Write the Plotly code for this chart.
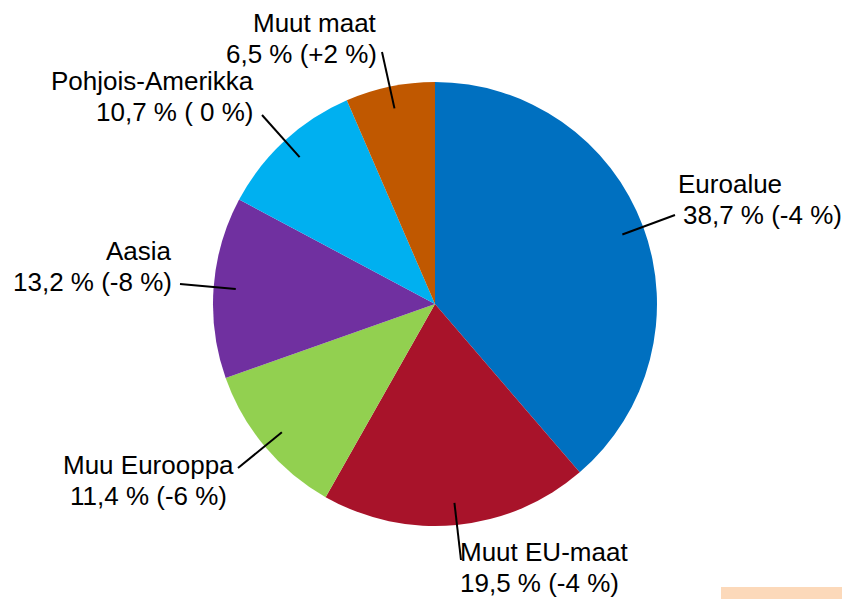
import math
import plotly.graph_objects as go

# the page adds an 8px body margin, so the figure is drawn 8px smaller
OFF = 8
W, H = 850 - OFF, 599 - OFF

# data
regions = ["Euroalue", "Muut EU-maat", "Muu Eurooppa", "Aasia", "Pohjois-Amerikka", "Muut maat"]
shares = [38.7, 19.5, 11.4, 13.2, 10.7, 6.5]
changes = ["-4 %", "-4 %", "-6 %", "-8 %", " 0 %", "+2 %"]
colors = ["#0070C0", "#A8132A", "#92D050", "#7030A0", "#00B0F0", "#C05800"]

# pie geometry in screen pixels
cx, cy, R = 435, 304, 222


def px(x):
    return (x - OFF) / W


def py(y):
    return 1 - (y - OFF) / H


fig = go.Figure(go.Pie(
    labels=regions,
    values=shares,
    sort=False,
    direction="clockwise",
    rotation=0,
    marker=dict(colors=colors, line=dict(width=0)),
    textinfo="none",
    hoverinfo="label+percent",
    domain=dict(x=[px(cx - R), px(cx + R)], y=[py(cy + R), py(cy - R)]),
    showlegend=False,
))

# label layout: outer end of leader line, text anchor, alignment, 2nd line indent
label_pos = {
    "Euroalue": dict(end=(675, 215), text=(677, 200), xanchor="left", indent=5),
    "Muut EU-maat": dict(end=(461, 560), text=(459, 568), xanchor="left", indent=0),
    "Muu Eurooppa": dict(end=(238, 468), text=(148, 481), xanchor="center", indent=0),
    "Aasia": dict(end=(180, 284), text=(173, 267), xanchor="right", indent=0),
    "Pohjois-Amerikka": dict(end=(262, 115), text=(255, 97), xanchor="right", indent=0),
    "Muut maat": dict(end=(382, 52), text=(378, 39), xanchor="right", indent=0),
}

shapes = []
annotations = []
total = sum(shares)
cum = 0
for name, v, ch in zip(regions, shares, changes):
    mid = (cum + v / 2) / total * 2 * math.pi
    cum += v
    ix = cx + 0.9 * R * math.sin(mid)
    iy = cy - 0.9 * R * math.cos(mid)
    p = label_pos[name]
    ex, ey = p["end"]
    shapes.append(dict(type="line", xref="paper", yref="paper",
                       x0=px(ix), y0=py(iy), x1=px(ex), y1=py(ey),
                       line=dict(color="black", width=2)))
    tx, ty = p["text"]
    pct = f"{v:.1f}".replace(".", ",")
    second = f"{pct} % ({ch})"
    for i, line in enumerate([name, second]):
        annotations.append(dict(
            x=px(tx + i * p["indent"]), y=py(ty - 16 + i * 31),
            xref="paper", yref="paper",
            text=line, showarrow=False, xanchor=p["xanchor"], yanchor="middle",
            borderpad=0,
            font=dict(family="Liberation Sans, Arial", size=26, color="black"),
        ))

# small peach bar in the bottom corner
shapes.append(dict(type="rect", xref="paper", yref="paper",
                   x0=px(721), x1=1, y0=0, y1=py(587),
                   fillcolor="#FCD9BA", line=dict(width=0)))

fig.update_layout(
    width=W, height=H,
    margin=dict(l=0, r=0, t=0, b=0),
    paper_bgcolor="white",
    plot_bgcolor="white",
    shapes=shapes,
    annotations=annotations,
)

fig.write_html("out.html")
